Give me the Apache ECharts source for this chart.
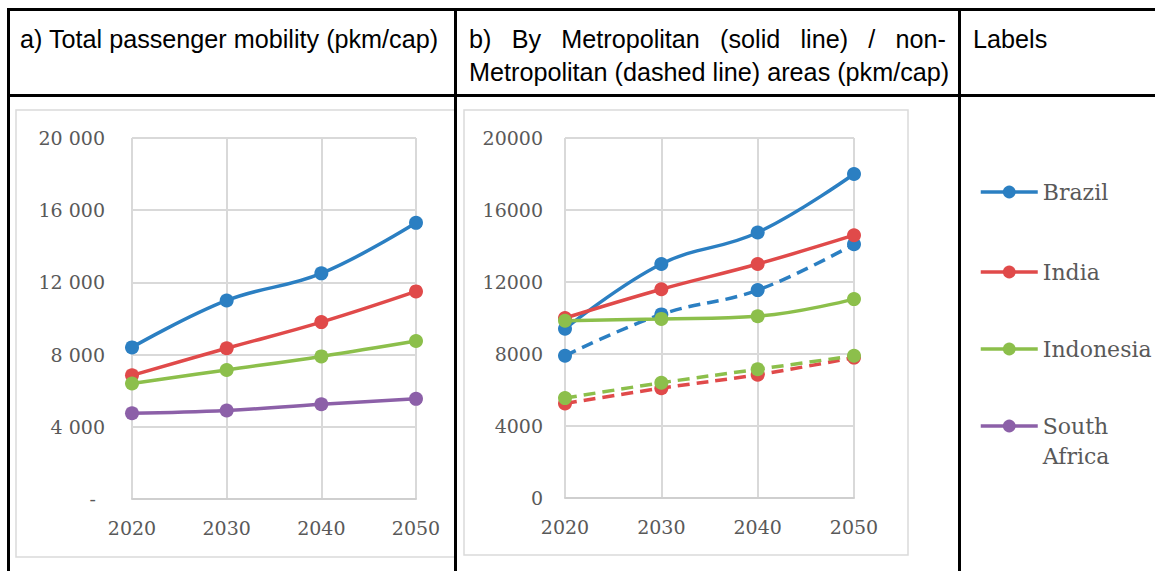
<!DOCTYPE html>
<html>
<head>
<meta charset="utf-8">
<script src="https://cdn.jsdelivr.net/npm/echarts@6/dist/echarts.min.js"></script>
<style>
  html, body { margin: 0; padding: 0; background: #fff; }
  #chart { width: 1155px; height: 571px; }
</style>
</head>
<body>
<div id="chart"></div>
<script>
// Years on the horizontal axis of both panels
const years = ['2020', '2030', '2040', '2050'];
const countries = ['Brazil', 'India', 'Indonesia', 'South Africa'];

// a) Total passenger mobility (pkm/cap)
const totalBrazil = [8400, 11000, 12500, 15300];
const totalIndia = [6850, 8350, 9800, 11500];
const totalIndonesia = [6400, 7150, 7900, 8750];
const totalSouthAfrica = [4750, 4900, 5250, 5550];

// b) Metropolitan areas (solid lines)
const metroBrazil = [9400, 13000, 14750, 18000];
const metroIndia = [10000, 11600, 13000, 14600];
const metroIndonesia = [9850, 9950, 10100, 11050];

// b) Non-metropolitan areas (dashed lines)
const nonMetroBrazil = [7900, 10200, 11550, 14100];
const nonMetroIndia = [5250, 6100, 6850, 7800];
const nonMetroIndonesia = [5550, 6400, 7150, 7900];

// Value axis range shared by both panels
const yMin = 0, yMax = 20000, yStep = 4000;

const colors = {
  'Brazil': '#2B7FC2',
  'India': '#E04A4A',
  'Indonesia': '#8CBF4B',
  'South Africa': '#8C60A8'
};

const tickFont = 'DejaVu Serif';
const tickColor = '#595959';
const gridColor = '#D9D9D9';
const headFont = '25.2px "Liberation Sans", Arial, sans-serif';

function lineSeries(name, data, panel, dashed) {
  const c = colors[name];
  return {
    type: 'line',
    name: name,
    data: data,
    xAxisIndex: panel,
    yAxisIndex: panel,
    smooth: 0.4,
    symbol: 'circle',
    symbolSize: 14,
    showSymbol: true,
    z: dashed ? 2 : 3,
    lineStyle: { color: c, width: 3.5, type: dashed ? [12, 7] : 'solid', cap: 'butt' },
    itemStyle: { color: c, borderWidth: 0 },
    emphasis: { disabled: true },
    animation: false
  };
}

// Thousands with a space separator; zero shown as a dash
function spacedThousands(v) {
  if (v === 0) return '{dash|-}';
  return String(v).replace(/\B(?=(\d{3})+(?!\d))/g, ' ');
}

function xAxisFor(gridIndex) {
  return {
    type: 'category',
    gridIndex: gridIndex,
    data: years,
    boundaryGap: false,
    axisTick: { show: false },
    axisLine: { show: true, lineStyle: { color: '#CFCFCF', width: 2 } },
    splitLine: { show: true, lineStyle: { color: gridColor, width: 2 } },
    axisLabel: { fontFamily: tickFont, fontSize: 19, color: tickColor, margin: 19 }
  };
}

function yAxisFor(gridIndex, formatter, margin) {
  return {
    type: 'value',
    gridIndex: gridIndex,
    min: yMin,
    max: yMax,
    interval: yStep,
    axisLine: { show: false },
    axisTick: { show: false },
    splitLine: { show: true, lineStyle: { color: gridColor, width: 2 } },
    axisLabel: {
      fontFamily: tickFont, fontSize: 19, color: tickColor, margin: margin,
      formatter: formatter,
      rich: { dash: { fontFamily: tickFont, fontSize: 19, color: tickColor, padding: [0, 9, 0, 0] } }
    }
  };
}

// Justify the first header line of panel b across its cell width
function justifiedWords(words, x0, x1, y) {
  const ctx = document.createElement('canvas').getContext('2d');
  ctx.font = headFont;
  const widths = words.map(w => ctx.measureText(w).width);
  const total = widths.reduce((a, b) => a + b, 0);
  const gap = (x1 - x0 - total) / (words.length - 1);
  let x = x0;
  return words.map((w, i) => {
    const el = { type: 'text', z: 20, style: { x: x, y: y, text: w, font: headFont, fill: '#000', verticalAlign: 'middle' } };
    x += widths[i] + gap;
    return el;
  });
}

const chart = echarts.init(document.getElementById('chart'), null, { renderer: 'svg' });

const legendTops = [177, 257, 334, 381];

const option = {
  backgroundColor: '#fff',
  animation: false,
  grid: [
    { left: 132, top: 138, width: 284, height: 361 },
    { left: 565, top: 138, width: 289, height: 360 }
  ],
  xAxis: [xAxisFor(0), xAxisFor(1)],
  yAxis: [
    yAxisFor(0, spacedThousands, 27),
    yAxisFor(1, v => String(v), 22)
  ],
  legend: countries.map((n, i) => ({
    data: [n],
    orient: 'vertical',
    left: 979,
    top: legendTops[i],
    padding: 0,
    itemWidth: 57,
    itemHeight: 16,
    selectedMode: false,
    lineStyle: { width: 3.5 },
    formatter: n === 'South Africa' ? ' \nSouth\nAfrica' : n,
    textStyle: { fontFamily: tickFont, fontSize: 22, color: tickColor, lineHeight: 30 }
  })),
  series: [
    lineSeries('Brazil', totalBrazil, 0, false),
    lineSeries('India', totalIndia, 0, false),
    lineSeries('Indonesia', totalIndonesia, 0, false),
    lineSeries('South Africa', totalSouthAfrica, 0, false),
    lineSeries('Brazil', nonMetroBrazil, 1, true),
    lineSeries('India', nonMetroIndia, 1, true),
    lineSeries('Indonesia', nonMetroIndonesia, 1, true),
    lineSeries('Brazil', metroBrazil, 1, false),
    lineSeries('India', metroIndia, 1, false),
    lineSeries('Indonesia', metroIndonesia, 1, false)
  ],
  graphic: [
    // chart frames
    { type: 'rect', z: 0, silent: true, shape: { x: 16, y: 110, width: 440, height: 447 },
      style: { fill: 'none', stroke: '#DADADA', lineWidth: 1.5 } },
    { type: 'rect', z: 0, silent: true, shape: { x: 464, y: 110, width: 444, height: 445 },
      style: { fill: 'none', stroke: '#DADADA', lineWidth: 1.5 } },
    // table rules
    { type: 'rect', z: 30, silent: true, shape: { x: 7, y: 8, width: 1148, height: 3 }, style: { fill: '#000' } },
    { type: 'rect', z: 30, silent: true, shape: { x: 7, y: 94, width: 1148, height: 3 }, style: { fill: '#000' } },
    { type: 'rect', z: 30, silent: true, shape: { x: 7, y: 8, width: 3, height: 563 }, style: { fill: '#000' } },
    { type: 'rect', z: 30, silent: true, shape: { x: 454, y: 8, width: 3, height: 563 }, style: { fill: '#000' } },
    { type: 'rect', z: 30, silent: true, shape: { x: 958, y: 8, width: 3, height: 563 }, style: { fill: '#000' } },
    // headers
    { type: 'text', z: 20, style: { x: 20, y: 39, text: 'a) Total passenger mobility (pkm/cap)', font: headFont, fill: '#000', verticalAlign: 'middle' } },
    ...justifiedWords(['b)', 'By', 'Metropolitan', '(solid', 'line)', '/', 'non-'], 469, 946, 39),
    { type: 'text', z: 20, style: { x: 469, y: 72, text: 'Metropolitan (dashed line) areas (pkm/cap)', font: headFont, fill: '#000', verticalAlign: 'middle' } },
    { type: 'text', z: 20, style: { x: 973, y: 39, text: 'Labels', font: headFont, fill: '#000', verticalAlign: 'middle' } }
  ]
};

chart.setOption(option);
</script>
</body>
</html>
